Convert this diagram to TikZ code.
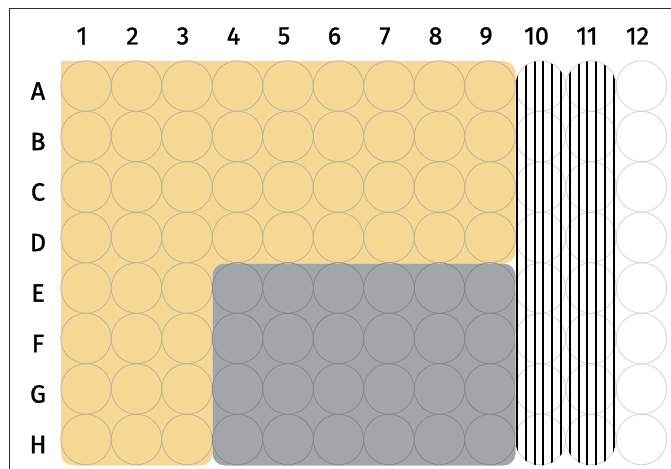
\documentclass[tikz,border=0pt]{standalone}
\usepackage{fontspec}
\setmainfont{Fira Sans}
\newfontfamily\labelfont{Fira Sans}[BoldFont=*,BoldFeatures={FakeBold=1.3}]
\usepackage{tikz}
\usetikzlibrary{calc,positioning}
\definecolor{platefill}{HTML}{F6D794}
\definecolor{platering}{HTML}{C2B493}
\definecolor{blockfill}{HTML}{A3A6A8}
\definecolor{blockring}{HTML}{86898B}
\definecolor{emptyring}{HTML}{D2D2D2}
\definecolor{framegray}{HTML}{2E2E2E}

\begin{document}
\begin{tikzpicture}[x=1pt,y=-1pt,
    well/.style={circle,minimum size=50.5pt,inner sep=0pt,outer sep=0pt,line width=0.8pt},
    wellY/.style={well,draw=platering},
    wellG/.style={well,draw=blockring},
    wellW/.style={well,draw=emptyring},
    hatch/.style={line width=2pt,black},
    lbl/.style={font=\labelfont\bfseries\fontsize{25}{25}\selectfont}]
      \useasboundingbox (0,0) rectangle (671,468);
      \clip (0,0) rectangle (671,468);
      % Yellow block (cols 1-9 / rows A-D, cols 1-3 / rows E-H)
      \fill[platefill] (61,300) -- (61,61) [rounded corners=12] -- (515.5,61) -- (515.5,263.5) -- (212.5,263.5) -- (212.5,465.5) -- (61,465.5) -- cycle;
      \fill[platefill] (61,61) rectangle (90,90);
      % Grey block
      \fill[blockfill,rounded corners=12] (212.5,263.5) rectangle (515.5,465.5);
      % Wells
      \foreach \r/\row in {1/A,2/B,3/C,4/D,5/E,6/F,7/G,8/H} {
        \pgfmathsetmacro{\yy}{86+50.5*(\r-1)}
        \foreach \c in {1,...,12} {
          \pgfmathsetmacro{\xx}{86+50.5*(\c-1)}
          \ifnum\c>9
            \node[wellW] (w-\row\c) at (\xx,\yy) {};
          \else\ifnum\r<5
            \node[wellY] (w-\row\c) at (\xx,\yy) {};
          \else\ifnum\c<4
            \node[wellY] (w-\row\c) at (\xx,\yy) {};
          \else
            \node[wellG] (w-\row\c) at (\xx,\yy) {};
          \fi\fi\fi
        }
        % Row label
        \node[lbl] (row-\row) at ($(38,\yy)+(0,5)$) {\row};
      }
      % Column labels
      \foreach \c in {1,...,12} {
        \node[lbl] (col-\c) at ($(w-A\c)+(-4,-50)$) {\c};
      }
      % Hatched columns 10 and 11
      \begin{scope}
        \clip[rounded corners=24.9] (515.5,61) rectangle (565.5,465.5)
                                    (566,61) rectangle (616,465.5);
        \foreach \k in {0,...,11}
          \draw[hatch] (517+8.8*\k,55) -- (517+8.8*\k,470);
      \end{scope}
      % Frame
      \draw[line width=1.6pt,framegray] (9.5,480) -- (9.5,8.5) -- (690,8.5);
    \end{tikzpicture}
\end{document}
